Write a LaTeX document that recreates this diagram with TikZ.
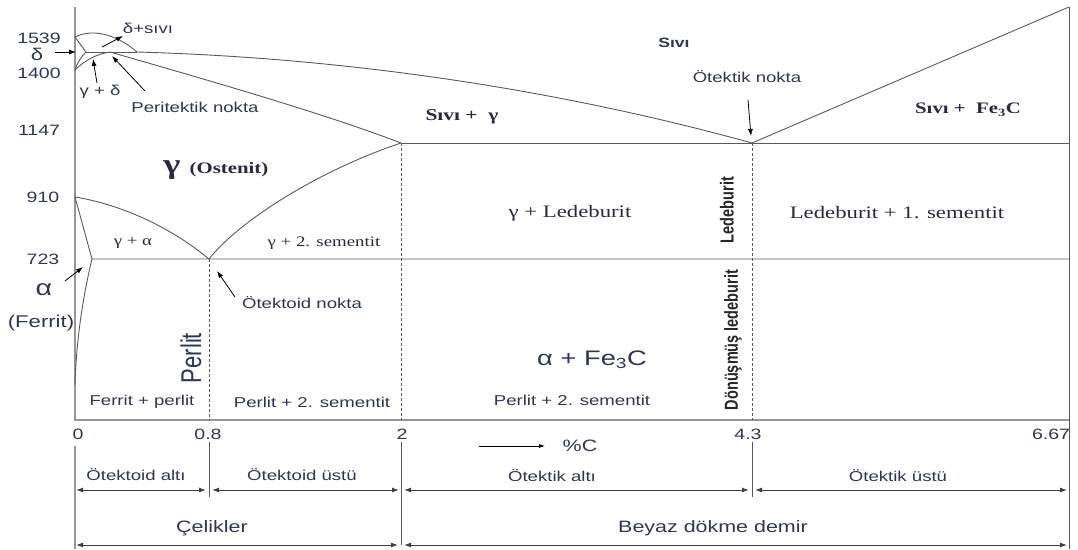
\documentclass[tikz,border=0pt]{standalone}
\usepackage{fontspec}
\usepackage{graphicx}
\setmainfont{Liberation Serif}[FakeStretch=1.3]
\newfontfamily\sfs{Liberation Sans}[FakeStretch=1.3]
\newfontfamily\sfv{Liberation Sans}
\usetikzlibrary{arrows.meta}
\definecolor{txt}{RGB}{45,55,85}
\definecolor{srf}{RGB}{40,40,65}
\definecolor{ln}{RGB}{90,90,90}
\definecolor{ax}{RGB}{150,150,150}
\tikzset{
  lbl/.style={text=txt, font=\sfs\fontsize{14.3}{16}\selectfont, inner sep=0pt},
  num/.style={text=txt, font=\sfs\fontsize{15}{17}\selectfont, inner sep=0pt},
  big/.style={text=txt, font=\sfs\fontsize{16.5}{18}\selectfont, inner sep=0pt},
  srl/.style={text=srf, font=\fontsize{17.5}{19}\selectfont, inner sep=0pt},
  srs/.style={text=srf, font=\fontsize{14.5}{16}\selectfont, inner sep=0pt},
  vlab/.style={text=black!85, font=\sfv\bfseries\fontsize{14.5}{16}\selectfont, inner sep=0pt, rotate=90},
  phase/.style={draw=ln, line width=0.9pt},
  axisl/.style={draw=ax, line width=1.5pt},
  dline/.style={draw=ln, line width=0.8pt, dash pattern=on 3pt off 2pt},
  ptr/.style={draw=black, line width=0.8pt, -{Latex[length=7pt,width=5pt]}},
  dim/.style={draw=ln!70!black, line width=1pt, {Latex[length=7pt,width=5pt]}-{Latex[length=7pt,width=5pt]}},
}
\begin{document}
\begin{tikzpicture}[x=1pt,y=-1pt]
\useasboundingbox (0,0) rectangle (1078,549);
% key points
\coordinate (tl) at (75,7);
\coordinate (o) at (75,420);
\coordinate (br) at (1069,420);
\coordinate (tr) at (1069,7);
\coordinate (rb) at (1069,549);
\coordinate (m1539) at (75,37);
\coordinate (dv) at (86,52);
\coordinate (m1400) at (75,70);
\coordinate (per) at (110,52);
\coordinate (liqd) at (137,52);
\coordinate (E) at (752,143);
\coordinate (Eg) at (401,143);
\coordinate (r1147) at (1069,143);
\coordinate (m910) at (75,197);
\coordinate (S) at (209,259);
\coordinate (P) at (92,259);
\coordinate (r723) at (1069,259);
\coordinate (abot) at (75,385);
\coordinate (s8) at (209,420);
\coordinate (s2) at (401,420);
\coordinate (s43) at (752,420);
% axes
\draw[axisl] (tl) -- (o) -- (br);
\draw[phase] (tr) -- (rb);
% phase lines
\draw[phase] (m1539) .. controls (95,27) and (120,37) .. (liqd);
\draw[phase] (m1539) -- (dv) .. controls (81,57) and (77,63) .. (m1400);
\draw[phase] (m1400) .. controls (85,60) and (97,54) .. (per);
\draw[phase] (dv) -- (liqd);
\draw[phase] (liqd) .. controls (350,58) and (560,90) .. (E);
\draw[phase] (per) .. controls (200,78) and (320,112) .. (Eg);
\draw[phase] (Eg) -- (r1147);
\draw[phase] (E) -- (tr);
\draw[phase] (m910) .. controls (118,204) and (168,225) .. (S);
\draw[phase] (S) .. controls (240,220) and (320,170) .. (Eg);
\draw[phase] (m910) -- (P) -- (r723);
\draw[phase] (P) .. controls (82,300) and (76,345) .. (abot);
\draw[dline] (S) -- (s8);
\draw[dline] (Eg) -- (s2);
\draw[dline] (E) -- (s43);
% temperature labels
\node[num] (t1539) at (39,38) {1539};
\node[text=txt, font=\sfs\fontsize{17}{19}\selectfont, inner sep=0pt] (tdelta) at (37,54.5) {δ};
\node[num] (t1400) at (39,73) {1400};
\node[num] (t1147) at (39,130) {1147};
\node[num] (t910) at (43,197) {910};
\node[num] (t723) at (43,259) {723};
\coordinate (dA) at (55,52);
\coordinate (dB) at (76,52);
\draw[ptr] (dA) -- (dB);
% top-left labels
\node[lbl] (dsivi) at (148,28) {δ+sıvı};
\coordinate (dsA) at (102,47);
\coordinate (dsB) at (123,36);
\draw[ptr] (dsA) -- (dsB);
\node[lbl] (gd) at (100,92) {γ + δ};
\coordinate (gdA) at (97,83);
\coordinate (gdB) at (93,59);
\draw[ptr] (gdA) -- (gdB);
\node[lbl] (pern) at (195,107) {Peritektik nokta};
\coordinate (pnA) at (145,91);
\coordinate (pnB) at (112,56);
\draw[ptr] (pnA) -- (pnB);
% liquid region
\node[lbl, font=\sfs\bfseries\fontsize{13.5}{16}\selectfont] (sivi) at (674,43) {Sıvı};
\node[lbl] (otn) at (747,77) {Ötektik nokta};
\coordinate (onA) at (748,100);
\coordinate (onB) at (751,136);
\draw[ptr] (onA) -- (onB);
\node[srl, font=\bfseries\fontsize{16.5}{18}\selectfont] (sg) at (462,117) {Sıvı +\ \ γ};
\node[srl, font=\bfseries\fontsize{16}{18}\selectfont] (sfe) at (968,110) {Sıvı + \ Fe\textsubscript{3}C};
% austenite region
\node[text=srf, font=\bfseries\fontsize{28}{30}\selectfont, inner sep=0pt] (gam) at (172,170) {γ};
\node[text=srf, font=\bfseries\fontsize{16}{18}\selectfont, inner sep=0pt] (ost) at (229,170) {(Ostenit)};
\node[srs] (ga) at (133,243) {γ + α};
\node[srs] (g2s) at (324,243) {γ + 2. sementit};
\node[srl] (gled) at (570,213) {γ + Ledeburit};
\node[srl] (led1) at (897,213) {Ledeburit + 1. sementit};
\node[vlab] (ledv) at (727,210) {\scalebox{1}[1.3]{Ledeburit}};
\node[vlab] (dled) at (733,340) {\scalebox{1}[1.3]{Dönüşmüş ledeburit}};
% ferrite
\node[text=txt, font=\sfs\fontsize{22}{24}\selectfont, inner sep=0pt] (alf) at (44,290) {α};
\node[text=txt, font=\sfs\fontsize{17}{19}\selectfont, inner sep=0pt] (fer) at (41,323) {(Ferrit)};
\coordinate (alA) at (65,281);
\coordinate (alB) at (83,267);
\draw[ptr] (alA) -- (alB);
\node[lbl] (otkn) at (302,303) {Ötektoid nokta};
\coordinate (okA) at (235,297);
\coordinate (okB) at (217,271);
\draw[ptr] (okA) -- (okB);
% lower region
\node[text=txt, font=\sfv\fontsize{22}{24}\selectfont, inner sep=0pt, rotate=90] (perl) at (191,358) {\scalebox{1}[1.3]{Perlit}};
\node[lbl] (fp) at (142,402) {Ferrit + perlit};
\node[lbl] (p2a) at (312,402) {Perlit + 2. sementit};
\node[lbl] (p2b) at (572,400) {Perlit + 2. sementit};
\node[text=txt, font=\sfs\fontsize{21}{23}\selectfont, inner sep=0pt] (afe) at (592,360) {α + Fe\textsubscript{3}C};
% composition axis
\node[num] (c0) at (78,434) {0};
\node[num] (c08) at (208,434) {0.8};
\node[num] (c2) at (402,434) {2};
\node[num] (c43) at (748,434) {4.3};
\node[num] (c667) at (1051,434) {6.67};
\coordinate (cA) at (479,446);
\coordinate (cB) at (545,446);
\draw[draw=black, line width=0.8pt, -{Latex[length=6pt,width=4pt]}] (cA) -- (cB);
\node[big] (pc) at (580,446) {\%C};
% lower scale
\draw[axisl] (75,446) -- (75,549);
\draw[phase] (209,442) -- (209,497);
\draw[phase] (401,442) -- (401,545);
\draw[phase] (752,442) -- (752,497);
\draw[dim] (76,490) -- (206,490);
\draw[dim] (212,490) -- (399,490);
\draw[dim] (404,490) -- (749,490);
\draw[dim] (755,490) -- (1067,490);
\draw[dim] (76,545) -- (398,545);
\draw[dim] (404,545) -- (1067,545);
\node[lbl] (oa) at (136,475) {Ötektoid altı};
\node[lbl] (ou) at (302,475) {Ötektoid üstü};
\node[lbl] (ea) at (552,476) {Ötektik altı};
\node[lbl] (eu) at (898,476) {Ötektik üstü};
\node[big] (cel) at (212,528) {Çelikler};
\node[big] (bdd) at (713,528) {Beyaz dökme demir};
\end{tikzpicture}
\end{document}
